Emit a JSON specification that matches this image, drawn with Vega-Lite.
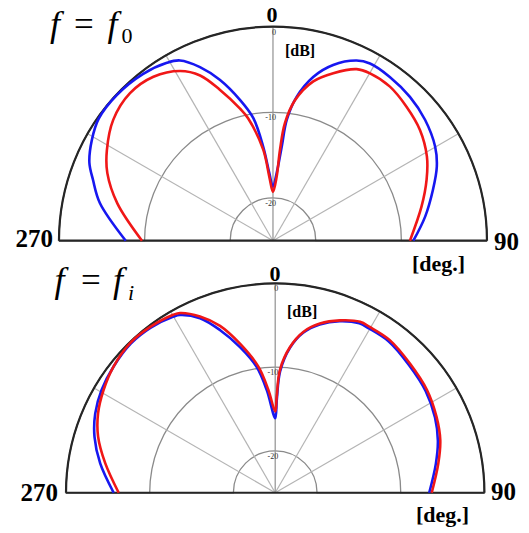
{
  "$schema": "https://vega.github.io/schema/vega-lite/v6.json",
  "padding": 0,
  "spacing": 0,
  "bounds": "flush",
  "background": "white",
  "config": {"view": {"stroke": null}, "font": "Liberation Serif, DejaVu Serif, serif"},
  "datasets": {
    "top": [
      {"c": "1", "a": -90, "db": -7.8}, {"c": "1", "a": -77.7, "db": -4.3}, {"c": "1", "a": -71.3, "db": -2.8},
      {"c": "1", "a": -67, "db": -1.7}, {"c": "1", "a": -61, "db": -0.8}, {"c": "1", "a": -55, "db": -0.15},
      {"c": "1", "a": -47, "db": -0.05}, {"c": "1", "a": -38, "db": -0.3}, {"c": "1", "a": -30.8, "db": -0.8},
      {"c": "1", "a": -27.3, "db": -1.3}, {"c": "1", "a": -22.8, "db": -3.0}, {"c": "1", "a": -18.3, "db": -5.2},
      {"c": "1", "a": -13.2, "db": -8.1}, {"c": "1", "a": -9.1, "db": -10.5}, {"c": "1", "a": -5.9, "db": -14.0},
      {"c": "1", "a": -3.1, "db": -17.1}, {"c": "1", "a": 0, "db": -18.7}, {"c": "1", "a": 3.1, "db": -17.1},
      {"c": "1", "a": 5.3, "db": -14.0}, {"c": "1", "a": 6.5, "db": -10.8}, {"c": "1", "a": 9.3, "db": -8.0},
      {"c": "1", "a": 13.8, "db": -5.3}, {"c": "1", "a": 18.9, "db": -3.3}, {"c": "1", "a": 24.9, "db": -1.8},
      {"c": "1", "a": 28.7, "db": -1.4}, {"c": "1", "a": 35.5, "db": -1.5}, {"c": "1", "a": 43.6, "db": -1.8},
      {"c": "1", "a": 51.5, "db": -2.3}, {"c": "1", "a": 59.9, "db": -3.1}, {"c": "1", "a": 65.7, "db": -4.0},
      {"c": "1", "a": 72.4, "db": -5.4}, {"c": "1", "a": 81, "db": -7.0}, {"c": "1", "a": 90, "db": -8.6},
      {"c": "2", "a": -90, "db": -9.7}, {"c": "2", "a": -76.5, "db": -6.3}, {"c": "2", "a": -67.8, "db": -4.1},
      {"c": "2", "a": -61.4, "db": -2.9}, {"c": "2", "a": -52.9, "db": -1.6}, {"c": "2", "a": -44.1, "db": -1.0},
      {"c": "2", "a": -36.1, "db": -1.3}, {"c": "2", "a": -28.7, "db": -2.4}, {"c": "2", "a": -23.8, "db": -3.9},
      {"c": "2", "a": -19.4, "db": -6.3}, {"c": "2", "a": -14, "db": -9.1}, {"c": "2", "a": -11.5, "db": -10.4},
      {"c": "2", "a": -6.1, "db": -14.3}, {"c": "2", "a": -3.3, "db": -17.5}, {"c": "2", "a": 0, "db": -19.3},
      {"c": "2", "a": 3.3, "db": -17.5}, {"c": "2", "a": 4.4, "db": -14.4}, {"c": "2", "a": 5.8, "db": -11.2},
      {"c": "2", "a": 8.9, "db": -8.4}, {"c": "2", "a": 14.2, "db": -5.8}, {"c": "2", "a": 19.8, "db": -4.2},
      {"c": "2", "a": 26, "db": -2.7}, {"c": "2", "a": 30.1, "db": -2.4}, {"c": "2", "a": 37.2, "db": -2.4},
      {"c": "2", "a": 44.9, "db": -2.9}, {"c": "2", "a": 53, "db": -3.5}, {"c": "2", "a": 61.3, "db": -4.5},
      {"c": "2", "a": 68.4, "db": -5.7}, {"c": "2", "a": 77.1, "db": -7.2}, {"c": "2", "a": 90, "db": -9.0}
    ],
    "bottom": [
      {"c": "1", "a": -90, "db": -5.7}, {"c": "1", "a": -80.5, "db": -3.8}, {"c": "1", "a": -72.8, "db": -2.4},
      {"c": "1", "a": -66.2, "db": -1.5}, {"c": "1", "a": -59.4, "db": -0.9}, {"c": "1", "a": -52, "db": -0.5},
      {"c": "1", "a": -44, "db": -0.2}, {"c": "1", "a": -37, "db": -0.3}, {"c": "1", "a": -30, "db": -0.7},
      {"c": "1", "a": -28.2, "db": -0.9}, {"c": "1", "a": -23.3, "db": -2.3}, {"c": "1", "a": -18.7, "db": -4.5},
      {"c": "1", "a": -13.6, "db": -7.1}, {"c": "1", "a": -8.4, "db": -9.8}, {"c": "1", "a": -4.7, "db": -12.7},
      {"c": "1", "a": 0, "db": -16.1}, {"c": "1", "a": 1, "db": -13.8}, {"c": "1", "a": 2.3, "db": -10.5},
      {"c": "1", "a": 5.8, "db": -7.6}, {"c": "1", "a": 9.9, "db": -5.6}, {"c": "1", "a": 14.8, "db": -4.2},
      {"c": "1", "a": 20.6, "db": -3.1}, {"c": "1", "a": 26.4, "db": -2.4}, {"c": "1", "a": 29.7, "db": -2.4},
      {"c": "1", "a": 36.9, "db": -2.4}, {"c": "1", "a": 46.2, "db": -2.9}, {"c": "1", "a": 55.9, "db": -3.3},
      {"c": "1", "a": 64.8, "db": -3.9}, {"c": "1", "a": 72.3, "db": -4.6}, {"c": "1", "a": 79.8, "db": -5.5},
      {"c": "1", "a": 90, "db": -6.6},
      {"c": "2", "a": -90, "db": -6.3}, {"c": "2", "a": -80.2, "db": -4.4}, {"c": "2", "a": -72.4, "db": -2.8},
      {"c": "2", "a": -65.8, "db": -1.8}, {"c": "2", "a": -59.1, "db": -1.1}, {"c": "2", "a": -52.1, "db": -0.5},
      {"c": "2", "a": -44.2, "db": -0.1}, {"c": "2", "a": -37, "db": -0.2}, {"c": "2", "a": -29.8, "db": -0.5},
      {"c": "2", "a": -27.9, "db": -0.7}, {"c": "2", "a": -23.1, "db": -2.1}, {"c": "2", "a": -18.3, "db": -4.0},
      {"c": "2", "a": -13.3, "db": -6.7}, {"c": "2", "a": -7.6, "db": -9.8}, {"c": "2", "a": -3.8, "db": -12.7},
      {"c": "2", "a": 0, "db": -15.3}, {"c": "2", "a": 0.9, "db": -13.5}, {"c": "2", "a": 2.2, "db": -10.3},
      {"c": "2", "a": 5.8, "db": -7.5}, {"c": "2", "a": 9.9, "db": -5.5}, {"c": "2", "a": 14.8, "db": -4.1},
      {"c": "2", "a": 20.6, "db": -3.0}, {"c": "2", "a": 26.4, "db": -2.2}, {"c": "2", "a": 29.7, "db": -2.2},
      {"c": "2", "a": 36.9, "db": -2.2}, {"c": "2", "a": 46.2, "db": -2.7}, {"c": "2", "a": 55.9, "db": -3.1},
      {"c": "2", "a": 64.8, "db": -3.7}, {"c": "2", "a": 72.3, "db": -4.3}, {"c": "2", "a": 79.8, "db": -5.2},
      {"c": "2", "a": 90, "db": -6.3}
    ],
    "spokes": [
      {"a": -60, "db": -25}, {"a": -60, "db": 0},
      {"a": -30, "db": -25}, {"a": -30, "db": 0},
      {"a": 30, "db": -25}, {"a": 30, "db": 0},
      {"a": 60, "db": -25}, {"a": 60, "db": 0}
    ],
    "vertical": [{"a": 0, "db": -25}, {"a": 0, "db": 0}],
    "baseline": [{"a": -90, "db": 0}, {"a": 90, "db": 0}],
    "levels": [{"db": 0, "t": "0"}, {"db": -10, "t": "-10"}, {"db": -20, "t": "-20"}]
  },
  "vconcat": [
    {
      "width": 529,
      "height": 252,
      "layer": [
        {
          "data": {"values": [{}]},
          "mark": {"type": "arc", "filled": false, "stroke": "#8a8a8a", "strokeWidth": 1.3, "theta": -1.5708, "theta2": 1.5708},
          "encoding": {
            "x": {"datum": 0, "type": "quantitative", "scale": {"domain": [-31.89, 29.91], "nice": false, "zero": false}, "axis": null},
            "y": {"datum": 0, "type": "quantitative", "scale": {"domain": [-1.32, 28.12], "nice": false, "zero": false}, "axis": null},
            "radius": {"datum": -10, "type": "quantitative", "scale": {"type": "linear", "domain": [-25, 0], "range": [0, 214]}}
          }
        },
        {
          "data": {"values": [{}]},
          "mark": {"type": "arc", "filled": false, "stroke": "#8a8a8a", "strokeWidth": 1.3, "theta": -1.5708, "theta2": 1.5708},
          "encoding": {
            "x": {"datum": 0, "type": "quantitative", "scale": {"domain": [-31.89, 29.91], "nice": false, "zero": false}, "axis": null},
            "y": {"datum": 0, "type": "quantitative", "scale": {"domain": [-1.32, 28.12], "nice": false, "zero": false}, "axis": null},
            "radius": {"datum": -20, "type": "quantitative", "scale": {"type": "linear", "domain": [-25, 0], "range": [0, 214]}}
          }
        },
        {
          "data": {"name": "spokes"},
          "transform": [
            {"calculate": "datum.db + 25", "as": "r"},
            {"calculate": "datum.r * sin(datum.a * PI / 180)", "as": "xr"},
            {"calculate": "datum.r * cos(datum.a * PI / 180)", "as": "yr"}
          ],
          "mark": {"type": "line", "stroke": "#b4b4b4", "strokeWidth": 1.2},
          "encoding": {
            "x": {"field": "xr", "type": "quantitative", "scale": {"domain": [-31.89, 29.91], "nice": false, "zero": false}, "axis": null},
            "y": {"field": "yr", "type": "quantitative", "scale": {"domain": [-1.32, 28.12], "nice": false, "zero": false}, "axis": null},
            "detail": {"field": "a", "type": "nominal"},
            "order": {"field": "db", "type": "quantitative"}
          }
        },
        {
          "data": {"name": "vertical"},
          "transform": [
            {"calculate": "datum.db + 25", "as": "r"},
            {"calculate": "datum.r * sin(datum.a * PI / 180)", "as": "xr"},
            {"calculate": "datum.r * cos(datum.a * PI / 180)", "as": "yr"}
          ],
          "mark": {"type": "line", "stroke": "#9a9a9a", "strokeWidth": 1.3},
          "encoding": {
            "x": {"field": "xr", "type": "quantitative", "scale": {"domain": [-31.89, 29.91], "nice": false, "zero": false}, "axis": null},
            "y": {"field": "yr", "type": "quantitative", "scale": {"domain": [-1.32, 28.12], "nice": false, "zero": false}, "axis": null},
            "order": {"field": "db", "type": "quantitative"}
          }
        },
        {
          "data": {"values": [{}]},
          "mark": {"type": "arc", "filled": false, "stroke": "#262626", "strokeWidth": 2.2, "theta": -1.5708, "theta2": 1.5708},
          "encoding": {
            "x": {"datum": 0, "type": "quantitative", "scale": {"domain": [-31.89, 29.91], "nice": false, "zero": false}, "axis": null},
            "y": {"datum": 0, "type": "quantitative", "scale": {"domain": [-1.32, 28.12], "nice": false, "zero": false}, "axis": null},
            "radius": {"datum": 0, "type": "quantitative", "scale": {"type": "linear", "domain": [-25, 0], "range": [0, 214]}}
          }
        },
        {
          "data": {"name": "baseline"},
          "transform": [
            {"calculate": "datum.db + 25", "as": "r"},
            {"calculate": "datum.r * sin(datum.a * PI / 180)", "as": "xr"},
            {"calculate": "datum.r * cos(datum.a * PI / 180)", "as": "yr"}
          ],
          "mark": {"type": "line", "stroke": "#262626", "strokeWidth": 2.2},
          "encoding": {
            "x": {"field": "xr", "type": "quantitative", "scale": {"domain": [-31.89, 29.91], "nice": false, "zero": false}, "axis": null},
            "y": {"field": "yr", "type": "quantitative", "scale": {"domain": [-1.32, 28.12], "nice": false, "zero": false}, "axis": null},
            "order": {"field": "a", "type": "quantitative"}
          }
        },
        {
          "data": {"name": "levels"},
          "transform": [{"calculate": "datum.db + 25", "as": "r"}],
          "mark": {"type": "text", "font": "Liberation Serif, DejaVu Serif, serif", "fontSize": 8, "align": "right", "baseline": "top", "dx": 3, "dy": 2, "fill": "#333333"},
          "encoding": {
            "x": {"datum": 0, "type": "quantitative", "scale": {"domain": [-31.89, 29.91], "nice": false, "zero": false}, "axis": null},
            "y": {"field": "r", "type": "quantitative", "scale": {"domain": [-1.32, 28.12], "nice": false, "zero": false}, "axis": null},
            "text": {"field": "t", "type": "nominal"}
          }
        },
        {
          "data": {"name": "top"},
          "transform": [
            {"calculate": "datum.db + 25", "as": "r"},
            {"calculate": "datum.r * sin(datum.a * PI / 180)", "as": "xr"},
            {"calculate": "datum.r * cos(datum.a * PI / 180)", "as": "yr"}
          ],
          "mark": {"type": "line", "strokeWidth": 2.6, "interpolate": "catmull-rom"},
          "encoding": {
            "x": {"field": "xr", "type": "quantitative", "scale": {"domain": [-31.89, 29.91], "nice": false, "zero": false}, "axis": null},
            "y": {"field": "yr", "type": "quantitative", "scale": {"domain": [-1.32, 28.12], "nice": false, "zero": false}, "axis": null},
            "order": {"field": "a", "type": "quantitative"},
            "color": {"field": "c", "type": "nominal", "scale": {"domain": ["1", "2"], "range": ["#1717f0", "#f01717"]}, "legend": null}
          }
        },
        {
          "data": {"values": [{"t": "f"}]},
          "mark": {"type": "text", "font": "Liberation Serif, DejaVu Serif, serif", "fontStyle": "italic", "fontSize": 36, "align": "center", "baseline": "alphabetic"},
          "encoding": {
            "x": {"datum": -25.47, "type": "quantitative", "scale": {"domain": [-31.89, 29.91], "nice": false, "zero": false}, "axis": null},
            "y": {"datum": 23.88, "type": "quantitative", "scale": {"domain": [-1.32, 28.12], "nice": false, "zero": false}, "axis": null},
            "text": {"field": "t", "type": "nominal"}
          }
        },
        {
          "data": {"values": [{"t": "="}]},
          "mark": {"type": "text", "font": "Liberation Serif, DejaVu Serif, serif", "fontSize": 35, "align": "center", "baseline": "alphabetic"},
          "encoding": {
            "x": {"datum": -22.08, "type": "quantitative", "scale": {"domain": [-31.89, 29.91], "nice": false, "zero": false}, "axis": null},
            "y": {"datum": 23.88, "type": "quantitative", "scale": {"domain": [-1.32, 28.12], "nice": false, "zero": false}, "axis": null},
            "text": {"field": "t", "type": "nominal"}
          }
        },
        {
          "data": {"values": [{"t": "f"}]},
          "mark": {"type": "text", "font": "Liberation Serif, DejaVu Serif, serif", "fontStyle": "italic", "fontSize": 36, "align": "center", "baseline": "alphabetic"},
          "encoding": {
            "x": {"datum": -18.75, "type": "quantitative", "scale": {"domain": [-31.89, 29.91], "nice": false, "zero": false}, "axis": null},
            "y": {"datum": 23.88, "type": "quantitative", "scale": {"domain": [-1.32, 28.12], "nice": false, "zero": false}, "axis": null},
            "text": {"field": "t", "type": "nominal"}
          }
        },
        {
          "data": {"values": [{"t": "0"}]},
          "mark": {"type": "text", "font": "Liberation Serif, DejaVu Serif, serif", "fontSize": 22, "align": "center", "baseline": "alphabetic"},
          "encoding": {
            "x": {"datum": -17.06, "type": "quantitative", "scale": {"domain": [-31.89, 29.91], "nice": false, "zero": false}, "axis": null},
            "y": {"datum": 23.1, "type": "quantitative", "scale": {"domain": [-1.32, 28.12], "nice": false, "zero": false}, "axis": null},
            "text": {"field": "t", "type": "nominal"}
          }
        },
        {
          "data": {"values": [{"t": "0"}]},
          "mark": {"type": "text", "font": "Liberation Serif, DejaVu Serif, serif", "fontWeight": "bold", "fontSize": 22, "align": "center", "baseline": "alphabetic"},
          "encoding": {
            "x": {"datum": -0.12, "type": "quantitative", "scale": {"domain": [-31.89, 29.91], "nice": false, "zero": false}, "axis": null},
            "y": {"datum": 25.5, "type": "quantitative", "scale": {"domain": [-1.32, 28.12], "nice": false, "zero": false}, "axis": null},
            "text": {"field": "t", "type": "nominal"}
          }
        },
        {
          "data": {"values": [{"t": "[dB]"}]},
          "mark": {"type": "text", "font": "Liberation Serif, DejaVu Serif, serif", "fontWeight": "bold", "fontSize": 16, "align": "left", "baseline": "alphabetic"},
          "encoding": {
            "x": {"datum": 1.4, "type": "quantitative", "scale": {"domain": [-31.89, 29.91], "nice": false, "zero": false}, "axis": null},
            "y": {"datum": 21.58, "type": "quantitative", "scale": {"domain": [-1.32, 28.12], "nice": false, "zero": false}, "axis": null},
            "text": {"field": "t", "type": "nominal"}
          }
        },
        {
          "data": {"values": [{"t": "270"}]},
          "mark": {"type": "text", "font": "Liberation Serif, DejaVu Serif, serif", "fontWeight": "bold", "fontSize": 25, "align": "right", "baseline": "alphabetic"},
          "encoding": {
            "x": {"datum": -25.7, "type": "quantitative", "scale": {"domain": [-31.89, 29.91], "nice": false, "zero": false}, "axis": null},
            "y": {"datum": -0.74, "type": "quantitative", "scale": {"domain": [-1.32, 28.12], "nice": false, "zero": false}, "axis": null},
            "text": {"field": "t", "type": "nominal"}
          }
        },
        {
          "data": {"values": [{"t": "90"}]},
          "mark": {"type": "text", "font": "Liberation Serif, DejaVu Serif, serif", "fontWeight": "bold", "fontSize": 25, "align": "left", "baseline": "alphabetic"},
          "encoding": {
            "x": {"datum": 25.82, "type": "quantitative", "scale": {"domain": [-31.89, 29.91], "nice": false, "zero": false}, "axis": null},
            "y": {"datum": -1.09, "type": "quantitative", "scale": {"domain": [-1.32, 28.12], "nice": false, "zero": false}, "axis": null},
            "text": {"field": "t", "type": "nominal"}
          }
        },
        {
          "data": {"values": [{"t": "[deg.]"}]},
          "mark": {"type": "text", "font": "Liberation Serif, DejaVu Serif, serif", "fontWeight": "bold", "fontSize": 22, "align": "left", "baseline": "alphabetic"},
          "encoding": {
            "x": {"datum": 16.24, "type": "quantitative", "scale": {"domain": [-31.89, 29.91], "nice": false, "zero": false}, "axis": null},
            "y": {"datum": -3.54, "type": "quantitative", "scale": {"domain": [-1.32, 28.12], "nice": false, "zero": false}, "axis": null},
            "text": {"field": "t", "type": "nominal"}
          }
        }
      ]
    },
    {
      "width": 529,
      "height": 281,
      "layer": [
        {
          "data": {"values": [{}]},
          "mark": {"type": "arc", "filled": false, "stroke": "#8a8a8a", "strokeWidth": 1.3, "theta": -1.5708, "theta2": 1.5708},
          "encoding": {
            "x": {"datum": 0, "type": "quantitative", "scale": {"domain": [-32.88, 30.32], "nice": false, "zero": false}, "axis": null},
            "y": {"datum": 0, "type": "quantitative", "scale": {"domain": [-4.81, 28.76], "nice": false, "zero": false}, "axis": null},
            "radius": {"datum": -10, "type": "quantitative", "scale": {"type": "linear", "domain": [-25, 0], "range": [0, 209.2]}}
          }
        },
        {
          "data": {"values": [{}]},
          "mark": {"type": "arc", "filled": false, "stroke": "#8a8a8a", "strokeWidth": 1.3, "theta": -1.5708, "theta2": 1.5708},
          "encoding": {
            "x": {"datum": 0, "type": "quantitative", "scale": {"domain": [-32.88, 30.32], "nice": false, "zero": false}, "axis": null},
            "y": {"datum": 0, "type": "quantitative", "scale": {"domain": [-4.81, 28.76], "nice": false, "zero": false}, "axis": null},
            "radius": {"datum": -20, "type": "quantitative", "scale": {"type": "linear", "domain": [-25, 0], "range": [0, 209.2]}}
          }
        },
        {
          "data": {"name": "spokes"},
          "transform": [
            {"calculate": "datum.db + 25", "as": "r"},
            {"calculate": "datum.r * sin(datum.a * PI / 180)", "as": "xr"},
            {"calculate": "datum.r * cos(datum.a * PI / 180)", "as": "yr"}
          ],
          "mark": {"type": "line", "stroke": "#b4b4b4", "strokeWidth": 1.2},
          "encoding": {
            "x": {"field": "xr", "type": "quantitative", "scale": {"domain": [-32.88, 30.32], "nice": false, "zero": false}, "axis": null},
            "y": {"field": "yr", "type": "quantitative", "scale": {"domain": [-4.81, 28.76], "nice": false, "zero": false}, "axis": null},
            "detail": {"field": "a", "type": "nominal"},
            "order": {"field": "db", "type": "quantitative"}
          }
        },
        {
          "data": {"name": "vertical"},
          "transform": [
            {"calculate": "datum.db + 25", "as": "r"},
            {"calculate": "datum.r * sin(datum.a * PI / 180)", "as": "xr"},
            {"calculate": "datum.r * cos(datum.a * PI / 180)", "as": "yr"}
          ],
          "mark": {"type": "line", "stroke": "#9a9a9a", "strokeWidth": 1.3},
          "encoding": {
            "x": {"field": "xr", "type": "quantitative", "scale": {"domain": [-32.88, 30.32], "nice": false, "zero": false}, "axis": null},
            "y": {"field": "yr", "type": "quantitative", "scale": {"domain": [-4.81, 28.76], "nice": false, "zero": false}, "axis": null},
            "order": {"field": "db", "type": "quantitative"}
          }
        },
        {
          "data": {"values": [{}]},
          "mark": {"type": "arc", "filled": false, "stroke": "#262626", "strokeWidth": 2.2, "theta": -1.5708, "theta2": 1.5708},
          "encoding": {
            "x": {"datum": 0, "type": "quantitative", "scale": {"domain": [-32.88, 30.32], "nice": false, "zero": false}, "axis": null},
            "y": {"datum": 0, "type": "quantitative", "scale": {"domain": [-4.81, 28.76], "nice": false, "zero": false}, "axis": null},
            "radius": {"datum": 0, "type": "quantitative", "scale": {"type": "linear", "domain": [-25, 0], "range": [0, 209.2]}}
          }
        },
        {
          "data": {"name": "baseline"},
          "transform": [
            {"calculate": "datum.db + 25", "as": "r"},
            {"calculate": "datum.r * sin(datum.a * PI / 180)", "as": "xr"},
            {"calculate": "datum.r * cos(datum.a * PI / 180)", "as": "yr"}
          ],
          "mark": {"type": "line", "stroke": "#262626", "strokeWidth": 2.2},
          "encoding": {
            "x": {"field": "xr", "type": "quantitative", "scale": {"domain": [-32.88, 30.32], "nice": false, "zero": false}, "axis": null},
            "y": {"field": "yr", "type": "quantitative", "scale": {"domain": [-4.81, 28.76], "nice": false, "zero": false}, "axis": null},
            "order": {"field": "a", "type": "quantitative"}
          }
        },
        {
          "data": {"name": "levels"},
          "transform": [{"calculate": "datum.db + 25", "as": "r"}],
          "mark": {"type": "text", "font": "Liberation Serif, DejaVu Serif, serif", "fontSize": 8, "align": "right", "baseline": "top", "dx": 3, "dy": 2, "fill": "#333333"},
          "encoding": {
            "x": {"datum": 0, "type": "quantitative", "scale": {"domain": [-32.88, 30.32], "nice": false, "zero": false}, "axis": null},
            "y": {"field": "r", "type": "quantitative", "scale": {"domain": [-4.81, 28.76], "nice": false, "zero": false}, "axis": null},
            "text": {"field": "t", "type": "nominal"}
          }
        },
        {
          "data": {"name": "bottom"},
          "transform": [
            {"calculate": "datum.db + 25", "as": "r"},
            {"calculate": "datum.r * sin(datum.a * PI / 180)", "as": "xr"},
            {"calculate": "datum.r * cos(datum.a * PI / 180)", "as": "yr"}
          ],
          "mark": {"type": "line", "strokeWidth": 2.6, "interpolate": "catmull-rom"},
          "encoding": {
            "x": {"field": "xr", "type": "quantitative", "scale": {"domain": [-32.88, 30.32], "nice": false, "zero": false}, "axis": null},
            "y": {"field": "yr", "type": "quantitative", "scale": {"domain": [-4.81, 28.76], "nice": false, "zero": false}, "axis": null},
            "order": {"field": "a", "type": "quantitative"},
            "color": {"field": "c", "type": "nominal", "scale": {"domain": ["1", "2"], "range": ["#1717f0", "#f01717"]}, "legend": null}
          }
        },
        {
          "data": {"values": [{"t": "f"}]},
          "mark": {"type": "text", "font": "Liberation Serif, DejaVu Serif, serif", "fontStyle": "italic", "fontSize": 36, "align": "center", "baseline": "alphabetic"},
          "encoding": {
            "x": {"datum": -25.77, "type": "quantitative", "scale": {"domain": [-32.88, 30.32], "nice": false, "zero": false}, "axis": null},
            "y": {"datum": 23.98, "type": "quantitative", "scale": {"domain": [-4.81, 28.76], "nice": false, "zero": false}, "axis": null},
            "text": {"field": "t", "type": "nominal"}
          }
        },
        {
          "data": {"values": [{"t": "="}]},
          "mark": {"type": "text", "font": "Liberation Serif, DejaVu Serif, serif", "fontSize": 35, "align": "center", "baseline": "alphabetic"},
          "encoding": {
            "x": {"datum": -22.01, "type": "quantitative", "scale": {"domain": [-32.88, 30.32], "nice": false, "zero": false}, "axis": null},
            "y": {"datum": 23.98, "type": "quantitative", "scale": {"domain": [-4.81, 28.76], "nice": false, "zero": false}, "axis": null},
            "text": {"field": "t", "type": "nominal"}
          }
        },
        {
          "data": {"values": [{"t": "f"}]},
          "mark": {"type": "text", "font": "Liberation Serif, DejaVu Serif, serif", "fontStyle": "italic", "fontSize": 36, "align": "center", "baseline": "alphabetic"},
          "encoding": {
            "x": {"datum": -18.78, "type": "quantitative", "scale": {"domain": [-32.88, 30.32], "nice": false, "zero": false}, "axis": null},
            "y": {"datum": 23.98, "type": "quantitative", "scale": {"domain": [-4.81, 28.76], "nice": false, "zero": false}, "axis": null},
            "text": {"field": "t", "type": "nominal"}
          }
        },
        {
          "data": {"values": [{"t": "i"}]},
          "mark": {"type": "text", "font": "Liberation Serif, DejaVu Serif, serif", "fontStyle": "italic", "fontSize": 22, "align": "center", "baseline": "alphabetic"},
          "encoding": {
            "x": {"datum": -17.23, "type": "quantitative", "scale": {"domain": [-32.88, 30.32], "nice": false, "zero": false}, "axis": null},
            "y": {"datum": 23.0, "type": "quantitative", "scale": {"domain": [-4.81, 28.76], "nice": false, "zero": false}, "axis": null},
            "text": {"field": "t", "type": "nominal"}
          }
        },
        {
          "data": {"values": [{"t": "0"}]},
          "mark": {"type": "text", "font": "Liberation Serif, DejaVu Serif, serif", "fontWeight": "bold", "fontSize": 22, "align": "center", "baseline": "alphabetic"},
          "encoding": {
            "x": {"datum": -0.02, "type": "quantitative", "scale": {"domain": [-32.88, 30.32], "nice": false, "zero": false}, "axis": null},
            "y": {"datum": 25.3, "type": "quantitative", "scale": {"domain": [-4.81, 28.76], "nice": false, "zero": false}, "axis": null},
            "text": {"field": "t", "type": "nominal"}
          }
        },
        {
          "data": {"values": [{"t": "[dB]"}]},
          "mark": {"type": "text", "font": "Liberation Serif, DejaVu Serif, serif", "fontWeight": "bold", "fontSize": 16, "align": "left", "baseline": "alphabetic"},
          "encoding": {
            "x": {"datum": 1.41, "type": "quantitative", "scale": {"domain": [-32.88, 30.32], "nice": false, "zero": false}, "axis": null},
            "y": {"datum": 20.99, "type": "quantitative", "scale": {"domain": [-4.81, 28.76], "nice": false, "zero": false}, "axis": null},
            "text": {"field": "t", "type": "nominal"}
          }
        },
        {
          "data": {"values": [{"t": "270"}]},
          "mark": {"type": "text", "font": "Liberation Serif, DejaVu Serif, serif", "fontWeight": "bold", "fontSize": 25, "align": "right", "baseline": "alphabetic"},
          "encoding": {
            "x": {"datum": -25.95, "type": "quantitative", "scale": {"domain": [-32.88, 30.32], "nice": false, "zero": false}, "axis": null},
            "y": {"datum": -0.99, "type": "quantitative", "scale": {"domain": [-4.81, 28.76], "nice": false, "zero": false}, "axis": null},
            "text": {"field": "t", "type": "nominal"}
          }
        },
        {
          "data": {"values": [{"t": "90"}]},
          "mark": {"type": "text", "font": "Liberation Serif, DejaVu Serif, serif", "fontWeight": "bold", "fontSize": 25, "align": "left", "baseline": "alphabetic"},
          "encoding": {
            "x": {"datum": 25.78, "type": "quantitative", "scale": {"domain": [-32.88, 30.32], "nice": false, "zero": false}, "axis": null},
            "y": {"datum": -0.87, "type": "quantitative", "scale": {"domain": [-4.81, 28.76], "nice": false, "zero": false}, "axis": null},
            "text": {"field": "t", "type": "nominal"}
          }
        },
        {
          "data": {"values": [{"t": "[deg.]"}]},
          "mark": {"type": "text", "font": "Liberation Serif, DejaVu Serif, serif", "fontWeight": "bold", "fontSize": 22, "align": "left", "baseline": "alphabetic"},
          "encoding": {
            "x": {"datum": 16.82, "type": "quantitative", "scale": {"domain": [-32.88, 30.32], "nice": false, "zero": false}, "axis": null},
            "y": {"datum": -3.5, "type": "quantitative", "scale": {"domain": [-4.81, 28.76], "nice": false, "zero": false}, "axis": null},
            "text": {"field": "t", "type": "nominal"}
          }
        }
      ]
    }
  ]
}
